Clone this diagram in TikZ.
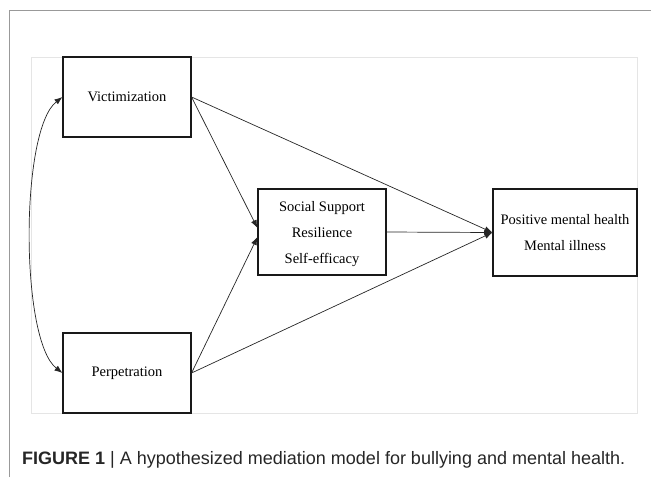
\documentclass[tikz,border=0pt]{standalone}
\usepackage{fontspec}
\setmainfont{Liberation Serif}
\newfontfamily\captionfont{Liberation Sans}
\usetikzlibrary{arrows.meta}
\tikzset{
  varbox/.style={draw=black!90,line width=1.1pt,fill=white,inner sep=0pt,
    align=center,font=\fontsize{14.5}{26}\selectfont},
  path/.style={draw=black!85,line width=0.7pt,-{Latex[length=8pt,width=6pt]}},
}
\begin{document}
\begin{tikzpicture}[x=1pt,y=-1pt]
    \useasboundingbox (0,0) rectangle (651,477);
    %% Frame lines
    \draw[black!40,line width=0.8pt] (9,477) -- (9,10) -- (651,10);
    \draw[black!10,line width=0.6pt] (31,57) rectangle (637,413);
    %% Predictors
    \node[varbox,minimum width=128pt,minimum height=80pt] (vic) at (127,97) {\raisebox{-3pt}{Victimization}};
    \node[varbox,minimum width=128pt,minimum height=80pt] (perp) at (127,373) {\raisebox{-3pt}{Perpetration}};
    %% Mediators
    \node[varbox,minimum width=128pt,minimum height=86pt] (med) at (322,232)
        {\raisebox{-3pt}{\begin{tabular}{c}Social Support\\Resilience\\Self-efficacy\end{tabular}}};
    %% Outcomes
    \node[varbox,minimum width=144pt,minimum height=87pt] (out) at (565,232.5)
        {\raisebox{-3pt}{\begin{tabular}{c}Positive mental health\\Mental illness\end{tabular}}};
    %% Covariance
    \draw[black!85,line width=0.7pt,{Latex[length=8pt,width=6pt]}-{Latex[length=8pt,width=6pt]}]
        (vic.west) .. controls (20,130) and (20,340) .. (perp.west);
    %% Paths
    \draw[path] (vic.east) -- ([yshift=4pt]med.west);
    \draw[path] (perp.east) -- ([yshift=-5pt]med.west);
    \draw[path] (vic.east) -- (out.west);
    \draw[path] (perp.east) -- (out.west);
    \draw[path] (med.east) -- (out.west);
    %% Caption
    \node[anchor=west,inner sep=0pt,text=black!85,font=\captionfont\fontsize{18}{21}\selectfont] (cap) at (22,460)
        {\textbf{FIGURE 1} | A hypothesized mediation model for bullying and mental health.};
\end{tikzpicture}
\end{document}
